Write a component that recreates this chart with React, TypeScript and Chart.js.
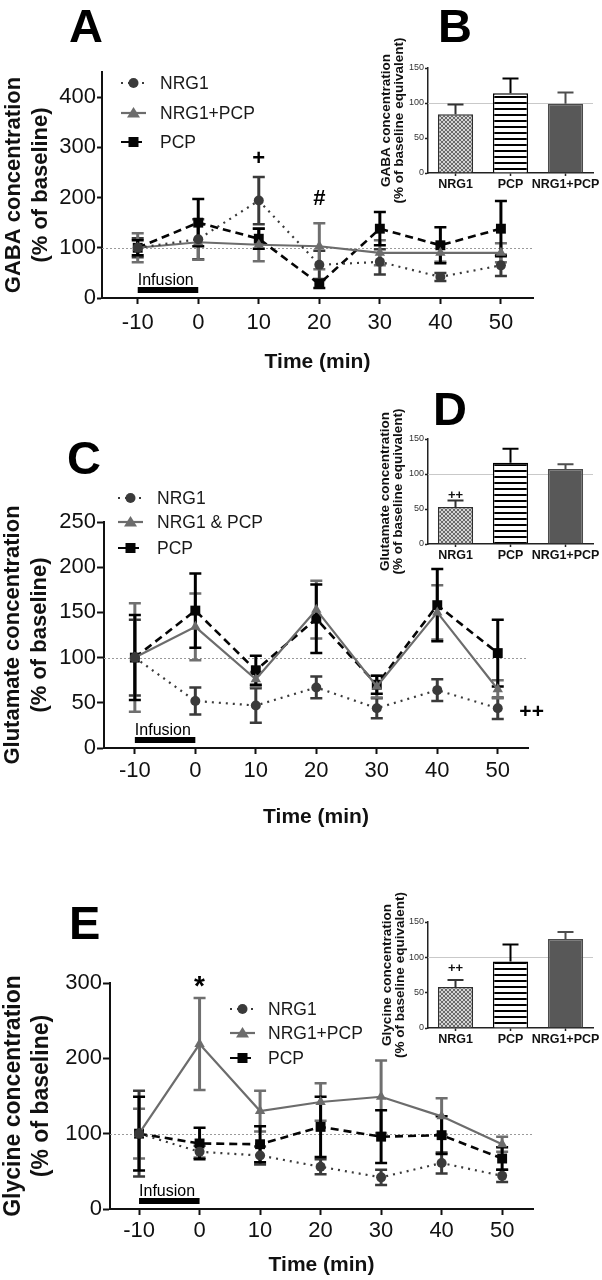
import React, { useEffect, useRef } from 'react';
import { Chart, registerables } from 'chart.js';
Chart.register(...registerables);

const FONT = '"Liberation Sans", Arial, Helvetica, sans-serif';
Chart.defaults.font.family = FONT;
Chart.defaults.color = '#111';

// ---------- shared categories ----------
const timePoints = [-10, 0, 10, 20, 30, 40, 50];
const xTickValues = [-10, 0, 10, 20, 30, 40, 50];
const barCategories = ['NRG1', 'PCP', 'NRG1+PCP'];

// ---------- Panel A: GABA time course ----------
const gabaNrg1 = [100, 117, 194, 66, 72, 42, 65];
const gabaNrg1Err = [19, 40, 47, 28, 25, 8, 21];
const gabaNrg1Pcp = [100, 111, 106, 103, 90, 90, 90];
const gabaNrg1PcpErr = [29, 35, 33, 46, 25, 18, 19];
const gabaPcp = [100, 150, 118, 28, 138, 105, 138];
const gabaPcpErr = [15, 47, 20, 8, 33, 36, 55];
const gabaYTicks = [0, 100, 200, 300, 400];

// ---------- Panel B: GABA bars ----------
const gabaBar = [84, 114, 99];
const gabaBarErr = [14, 21, 16];

// ---------- Panel C: Glutamate time course ----------
const gluNrg1 = [100, 52, 47, 67, 44, 64, 44];
const gluNrg1Err = [42, 15, 19, 12, 11, 12, 12];
const gluNrg1Pcp = [100, 134, 76, 153, 68, 150, 65];
const gluNrg1PcpErr = [60, 37, 8, 32, 12, 30, 10];
const gluPcp = [100, 152, 86, 143, 70, 158, 105];
const gluPcpErr = [47, 41, 16, 38, 10, 40, 37];
const gluYTicks = [0, 50, 100, 150, 200, 250];

// ---------- Panel D: Glutamate bars ----------
const gluBar = [53, 116, 107];
const gluBarErr = [9, 20, 7];

// ---------- Panel E: Glycine time course ----------
const glyNrg1 = [100, 76, 71, 56, 42, 61, 44];
const glyNrg1Err = [57, 8, 12, 10, 10, 14, 8];
const glyNrg1Pcp = [100, 219, 130, 142, 149, 123, 86];
const glyNrg1PcpErr = [33, 61, 27, 25, 48, 24, 10];
const glyPcp = [100, 87, 86, 109, 96, 98, 67];
const glyPcpErr = [49, 21, 24, 40, 35, 25, 15];
const glyYTicks = [0, 100, 200, 300];

// ---------- Inset E: Glycine bars ----------
const glyBar = [58, 94, 126];
const glyBarErr = [10, 24, 10];

const STYLES: any = {
  nrg1: { color: '#3a3a3a', err: '#3a3a3a', dash: [2, 5], width: 2.2, point: 'circle', radius: 5 },
  combo: { color: '#6c6c6c', err: '#6f6f6f', dash: [], width: 2.2, point: 'triangle', radius: 6 },
  pcp: { color: '#050505', err: '#000000', dash: [8, 5], width: 2.6, point: 'rect', radius: 7 },
};

function drawMarker(ctx: any, kind: string, x: number, y: number, color: string) {
  ctx.save();
  ctx.fillStyle = color;
  ctx.setLineDash([]);
  ctx.beginPath();
  if (kind === 'circle') {
    ctx.arc(x, y, 5, 0, Math.PI * 2);
  } else if (kind === 'triangle') {
    ctx.moveTo(x, y - 6);
    ctx.lineTo(x - 6.5, y + 4.5);
    ctx.lineTo(x + 6.5, y + 4.5);
    ctx.closePath();
  } else {
    ctx.rect(x - 5, y - 5, 10, 10);
  }
  ctx.fill();
  ctx.restore();
}

function linePlugin(p: any) {
  return {
    id: 'lineDecor',
    beforeDatasetsDraw(chart: any) {
      const { ctx, chartArea, scales } = chart;
      const x = scales.x;
      const y = scales.y;
      ctx.save();
      ctx.strokeStyle = '#9a9a9a';
      ctx.lineWidth = 1;
      ctx.setLineDash([2, 2]);
      const yb = Math.round(y.getPixelForValue(100)) + 0.5;
      ctx.beginPath();
      ctx.moveTo(chartArea.left, yb);
      ctx.lineTo(chartArea.right, yb);
      ctx.stroke();
      ctx.setLineDash([]);
      p.series.forEach((s: any) => {
        const st = STYLES[s.style];
        ctx.strokeStyle = st.err;
        s.values.forEach((v: number, i: number) => {
          const e = s.errors[i];
          const px = x.getPixelForValue(timePoints[i]);
          const top = y.getPixelForValue(v + e);
          const bot = y.getPixelForValue(Math.max(0, v - e));
          ctx.lineWidth = 3;
          ctx.beginPath();
          ctx.moveTo(px, top);
          ctx.lineTo(px, bot);
          ctx.stroke();
          ctx.lineWidth = 2.5;
          ctx.beginPath();
          ctx.moveTo(px - 6, top);
          ctx.lineTo(px + 6, top);
          ctx.moveTo(px - 6, bot);
          ctx.lineTo(px + 6, bot);
          ctx.stroke();
        });
      });
      ctx.restore();
    },
    afterDraw(chart: any) {
      const { ctx, scales } = chart;
      const x = scales.x;
      const y = scales.y;
      const y0 = y.getPixelForValue(0);
      ctx.save();
      // infusion bar
      const xa = x.getPixelForValue(-10);
      const xb = x.getPixelForValue(0);
      ctx.fillStyle = '#000';
      ctx.fillRect(xa, y0 - 11, xb - xa, 6);
      ctx.font = `16px ${FONT}`;
      ctx.textAlign = 'left';
      ctx.textBaseline = 'alphabetic';
      ctx.fillText('Infusion', xa, y0 - 13);
      // annotations
      p.annotations.forEach((a: any) => {
        ctx.font = a.font;
        ctx.textAlign = 'center';
        ctx.textBaseline = 'middle';
        ctx.fillText(a.text, x.getPixelForValue(a.x), y.getPixelForValue(a.y));
      });
      // legend
      const L = p.legend;
      p.series.forEach((s: any, i: number) => {
        const st = STYLES[s.style];
        const ly = L.ys[i];
        ctx.strokeStyle = st.color;
        ctx.lineWidth = 2.2;
        ctx.setLineDash(st.dash);
        ctx.beginPath();
        ctx.moveTo(L.x0, ly);
        ctx.lineTo(L.x1, ly);
        ctx.stroke();
        ctx.setLineDash([]);
        drawMarker(ctx, st.point, (L.x0 + L.x1) / 2, ly, st.color);
        ctx.fillStyle = '#1a1a1a';
        ctx.font = `17.5px ${FONT}`;
        ctx.textAlign = 'left';
        ctx.textBaseline = 'middle';
        ctx.fillText(s.label, L.textX, ly + 1);
      });
      ctx.restore();
    },
  };
}

function lineConfig(p: any): any {
  const datasets = p.series.map((s: any) => {
    const st = STYLES[s.style];
    return {
      label: s.label,
      data: timePoints.map((t, i) => ({ x: t, y: s.values[i] })),
      borderColor: st.color,
      backgroundColor: st.color,
      borderWidth: st.width,
      borderDash: st.dash,
      pointStyle: st.point,
      pointRadius: st.radius,
      pointBackgroundColor: st.color,
      pointBorderColor: st.color,
      pointBorderWidth: 0,
      tension: 0,
      fill: false,
    };
  });
  const tickColor = '#111';
  return {
    type: 'line',
    data: { datasets },
    plugins: [linePlugin(p)],
    options: {
      animation: false,
      responsive: false,
      events: [],
      layout: { padding: { left: 0, top: p.chartTop, right: p.padRight, bottom: 0 } },
      plugins: { legend: { display: false }, tooltip: { enabled: false } },
      scales: {
        x: {
          type: 'linear',
          min: p.xMin,
          max: p.xMax,
          afterBuildTicks: (s: any) => { s.ticks = xTickValues.map((v) => ({ value: v })); },
          afterFit: (s: any) => { s.height = p.xAxisHeight; },
          grid: { drawOnChartArea: false, drawTicks: true, tickLength: 6, tickWidth: 2, tickColor },
          border: { display: true, color: tickColor, width: 2 },
          ticks: { font: { size: 22 }, color: tickColor, padding: p.xTickPad, autoSkip: false, maxRotation: 0 },
          title: {
            display: true,
            text: 'Time (min)',
            color: tickColor,
            font: { size: 21, weight: 'bold', lineHeight: 1.2 },
            padding: { top: 0, bottom: p.xTitlePad },
          },
        },
        y: {
          type: 'linear',
          min: 0,
          max: p.yMax,
          afterBuildTicks: (s: any) => { s.ticks = p.yTicks.map((v: number) => ({ value: v })); },
          afterFit: (s: any) => { s.width = p.yAxisWidth; },
          grid: { drawOnChartArea: false, drawTicks: true, tickLength: p.yTickLen, tickWidth: 2, tickColor },
          border: { display: true, color: tickColor, width: 2 },
          ticks: { font: { size: 22 }, color: tickColor, padding: 1 },
          title: {
            display: true,
            text: p.yTitle,
            color: tickColor,
            font: { size: p.yTitleSize, weight: 'bold', lineHeight: 1.2 },
            padding: { top: p.yTitlePad, bottom: 0 },
          },
        },
      },
    },
  };
}

function makeHatch(): any {
  const c = document.createElement('canvas');
  c.width = 4; c.height = 4;
  const g = c.getContext('2d')!;
  g.fillStyle = '#d4d4d4';
  g.fillRect(0, 0, 4, 4);
  g.fillStyle = '#6a6a6a';
  for (let i = 0; i < 4; i++) { g.fillRect(i, i, 1, 1); g.fillRect(3 - i, i, 1, 1); }
  return g.createPattern(c, 'repeat');
}
function makeStripes(): any {
  const c = document.createElement('canvas');
  c.width = 6; c.height = 6;
  const g = c.getContext('2d')!;
  g.fillStyle = '#ffffff';
  g.fillRect(0, 0, 6, 6);
  g.fillStyle = '#000000';
  g.fillRect(0, 0, 6, 2);
  return g.createPattern(c, 'repeat');
}

function barPlugin(p: any) {
  return {
    id: 'barDecor',
    beforeDatasetsDraw(chart: any) {
      const { ctx, chartArea, scales } = chart;
      const y = scales.y;
      ctx.save();
      ctx.strokeStyle = '#c9c9c9';
      ctx.lineWidth = 1;
      const yb = Math.round(y.getPixelForValue(100)) + 0.5;
      ctx.beginPath();
      ctx.moveTo(chartArea.left, yb);
      ctx.lineTo(chartArea.right, yb);
      ctx.stroke();
      ctx.restore();
    },
    afterDatasetsDraw(chart: any) {
      const { ctx, scales } = chart;
      const x = scales.x;
      const y = scales.y;
      const errColors = ['#333333', '#000000', '#4e4e4e'];
      ctx.save();
      p.values.forEach((v: number, i: number) => {
        const px = x.getPixelForValue(i);
        const top = y.getPixelForValue(v + p.errors[i]);
        const base = y.getPixelForValue(v);
        ctx.strokeStyle = errColors[i];
        ctx.lineWidth = 2;
        ctx.beginPath();
        ctx.moveTo(px, base);
        ctx.lineTo(px, top);
        ctx.moveTo(px - 8, top);
        ctx.lineTo(px + 8, top);
        ctx.stroke();
      });
      if (p.mark) {
        ctx.fillStyle = '#111';
        ctx.font = `bold 13px ${FONT}`;
        ctx.textAlign = 'center';
        ctx.textBaseline = 'middle';
        ctx.fillText(p.mark.text, x.getPixelForValue(p.mark.index), y.getPixelForValue(p.mark.y));
      }
      ctx.restore();
    },
  };
}

function barConfig(p: any): any {
  const tickColor = '#222';
  return {
    type: 'bar',
    data: {
      labels: barCategories,
      datasets: [{
        data: p.values,
        backgroundColor: [makeHatch(), makeStripes(), '#585858'],
        borderColor: ['#2e2e2e', '#000000', '#4a4a4a'],
        borderWidth: 1.5,
        barPercentage: 0.64,
        categoryPercentage: 1,
      }],
    },
    plugins: [barPlugin(p)],
    options: {
      animation: false,
      responsive: false,
      events: [],
      layout: { padding: { left: 0, top: p.chartTop, right: p.padRight, bottom: 0 } },
      plugins: { legend: { display: false }, tooltip: { enabled: false } },
      scales: {
        x: {
          type: 'category',
          afterFit: (s: any) => { s.height = p.xAxisHeight; },
          grid: { drawOnChartArea: false, offset: false, tickLength: 3, tickWidth: 1.5, tickColor },
          border: { display: true, color: tickColor, width: 1.5 },
          ticks: { font: { size: 12.5, weight: 'bold' }, color: '#111', padding: 1, autoSkip: false, maxRotation: 0 },
        },
        y: {
          type: 'linear',
          min: 0,
          max: 150,
          afterBuildTicks: (s: any) => { s.ticks = [0, 50, 100, 150].map((v) => ({ value: v })); },
          afterFit: (s: any) => { s.width = p.yAxisWidth; },
          grid: { drawOnChartArea: false, tickLength: 3, tickWidth: 1.5, tickColor },
          border: { display: true, color: tickColor, width: 1.5 },
          ticks: { font: { size: 9 }, color: '#333', padding: 1 },
          title: {
            display: true,
            text: p.yTitle,
            color: '#111',
            font: { size: 13.5, weight: 'bold', lineHeight: 0.98 },
            padding: { top: p.yTitlePad, bottom: 0 },
          },
        },
      },
    },
  };
}

const panelA = {
  series: [
    { label: 'NRG1', style: 'nrg1', values: gabaNrg1, errors: gabaNrg1Err },
    { label: 'NRG1+PCP', style: 'combo', values: gabaNrg1Pcp, errors: gabaNrg1PcpErr },
    { label: 'PCP', style: 'pcp', values: gabaPcp, errors: gabaPcpErr },
  ],
  yTitle: ['GABA concentration', '(% of baseline)'],
  yTitleSize: 22, yTitlePad: 1,
  yMax: 450, yTicks: gabaYTicks, xMin: -15.9, xMax: 55.3,
  chartTop: 72, padRight: 69, yAxisWidth: 102, xAxisHeight: 82,
  xTickPad: 6, yTickLen: 5, xTitlePad: 5.4,
  legend: { x0: 121, x1: 146, textX: 160, ys: [83, 113, 142] },
  annotations: [
    { text: '+', x: 10, y: 276, font: `bold 22px ${FONT}` },
    { text: '#', x: 20, y: 198, font: `bold 22px ${FONT}` },
  ],
};

const panelC = {
  series: [
    { label: 'NRG1', style: 'nrg1', values: gluNrg1, errors: gluNrg1Err },
    { label: 'NRG1 & PCP', style: 'combo', values: gluNrg1Pcp, errors: gluNrg1PcpErr },
    { label: 'PCP', style: 'pcp', values: gluPcp, errors: gluPcpErr },
  ],
  yTitle: ['Glutamate concentration', '(% of baseline)'],
  yTitleSize: 22, yTitlePad: 0,
  yMax: 250, yTicks: gluYTicks, xMin: -15.1, xMax: 55,
  chartTop: 142, padRight: 74, yAxisWidth: 104, xAxisHeight: 92,
  xTickPad: 4, yTickLen: 7, xTitlePad: 10.4,
  legend: { x0: 118, x1: 143, textX: 157, ys: [118, 142, 168] },
  annotations: [
    { text: '++', x: 55.6, y: 40, font: `bold 21px ${FONT}` },
  ],
};

const panelE = {
  series: [
    { label: 'NRG1', style: 'nrg1', values: glyNrg1, errors: glyNrg1Err },
    { label: 'NRG1+PCP', style: 'combo', values: glyNrg1Pcp, errors: glyNrg1PcpErr },
    { label: 'PCP', style: 'pcp', values: glyPcp, errors: glyPcpErr },
  ],
  yTitle: ['Glycine concentration', '(% of baseline)'],
  yTitleSize: 23, yTitlePad: 0,
  yMax: 300, yTicks: glyYTicks, xMin: -14.8, xMax: 55.1,
  chartTop: 123, padRight: 69, yAxisWidth: 110, xAxisHeight: 71,
  xTickPad: 3, yTickLen: 7, xTitlePad: 2.4,
  legend: { x0: 230, x1: 255, textX: 268, ys: [149, 173, 198] },
  annotations: [
    { text: '*', x: 0, y: 294, font: `bold 28px ${FONT}` },
  ],
};

const insetB = {
  values: gabaBar, errors: gabaBarErr,
  yTitle: ['GABA concentration', '(% of baseline equivalent)'],
  chartTop: 68, padRight: 9, yAxisWidth: 68, xAxisHeight: 47, yTitlePad: 19.4,
  mark: null,
};
const insetD = {
  values: gluBar, errors: gluBarErr,
  yTitle: ['Glutamate concentration', '(% of baseline equivalent)'],
  chartTop: 59, padRight: 9, yAxisWidth: 68, xAxisHeight: 56, yTitlePad: 18.4,
  mark: { text: '++', index: 0, y: 70 },
};
const insetF = {
  values: glyBar, errors: glyBarErr,
  yTitle: ['Glycine concentration', '(% of baseline equivalent)'],
  chartTop: 62, padRight: 9, yAxisWidth: 68, xAxisHeight: 52, yTitlePad: 20.4,
  mark: { text: '++', index: 0, y: 85 },
};

function ChartBox(props: { left: number; top: number; width: number; height: number; build: () => any; z?: number }) {
  const ref = useRef<HTMLCanvasElement>(null);
  useEffect(() => {
    const chart = new Chart(ref.current as HTMLCanvasElement, props.build());
    return () => chart.destroy();
  }, []);
  return (
    <canvas
      ref={ref}
      width={props.width}
      height={props.height}
      style={{ position: 'absolute', left: props.left, top: props.top, width: props.width, height: props.height, zIndex: props.z || 1 }}
    />
  );
}

function Letter(props: { text: string; left: number; top: number }) {
  return (
    <div
      style={{
        position: 'absolute', left: props.left, top: props.top, fontFamily: FONT, fontWeight: 'bold',
        fontSize: 47, lineHeight: '47px', color: '#000', zIndex: 5,
      }}
    >
      {props.text}
    </div>
  );
}

export default function App() {
  return (
    <div style={{ position: 'absolute', left: 0, top: 0, width: 602, height: 1280, background: '#fff', overflow: 'hidden' }}>
      <ChartBox left={0} top={0} width={602} height={380} build={() => lineConfig(panelA)} />
      <ChartBox left={0} top={380} width={602} height={460} build={() => lineConfig(panelC)} />
      <ChartBox left={0} top={860} width={602} height={420} build={() => lineConfig(panelE)} />
      <ChartBox left={360} top={0} width={242} height={220} build={() => barConfig(insetB)} z={2} />
      <ChartBox left={360} top={380} width={242} height={220} build={() => barConfig(insetD)} z={2} />
      <ChartBox left={360} top={860} width={242} height={220} build={() => barConfig(insetF)} z={2} />
      <Letter text="A" left={69} top={2} />
      <Letter text="B" left={438} top={2} />
      <Letter text="C" left={67} top={434} />
      <Letter text="D" left={433} top={385} />
      <Letter text="E" left={69} top={899} />
    </div>
  );
}
